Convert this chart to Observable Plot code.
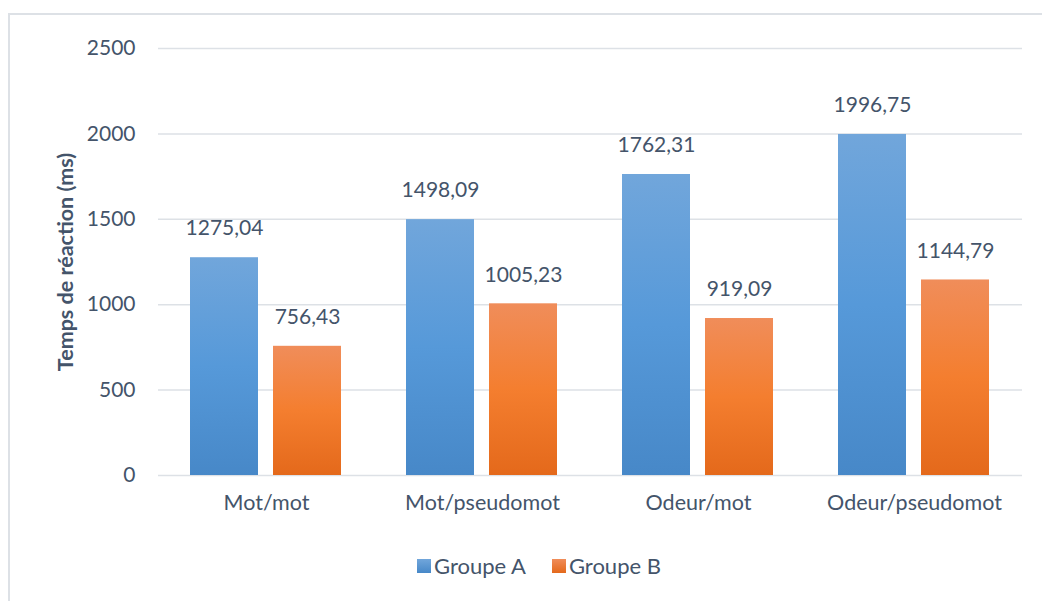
<!DOCTYPE html>
<html>
<head>
<meta charset="utf-8">
<script src="https://cdn.jsdelivr.net/npm/d3@7"></script>
<script src="https://cdn.jsdelivr.net/npm/@observablehq/plot@0.6"></script>
<style>
  html, body { margin: 0; padding: 0; background: #fff; }
  #wrap { position: relative; width: 1042px; height: 601px; overflow: hidden; font-family: Lato, "Open Sans", sans-serif; color: #44546a; }
  #frame { position: absolute; left: 8px; top: 13px; width: 1100px; height: 700px; border-left: 2px solid #dde1e6; border-top: 2px solid #dde1e6; pointer-events: none; }
  #chart { position: absolute; left: 0; top: 0; }
  #ytitle { position: absolute; left: 65px; top: 262px; transform: translate(-50%, -50%) rotate(-90deg); font-weight: bold; font-size: 21.5px; white-space: nowrap; }
  #legend { position: absolute; left: 417px; top: 552px; display: flex; align-items: center; font-size: 22px; }
  .sw { width: 14px; height: 14px; display: inline-block; margin-right: 3px; }
  .item { display: flex; align-items: center; margin-right: 26px; }
</style>
</head>
<body>
<div id="wrap">
  <div id="chart"></div>
  <div id="frame"></div>
  <div id="ytitle">Temps de réaction (ms)</div>
  <div id="legend"></div>
</div>
<script>
const categories = ["Mot/mot", "Mot/pseudomot", "Odeur/mot", "Odeur/pseudomot"];
const groups = ["Groupe A", "Groupe B"];
const groupA = [1275.04, 1498.09, 1762.31, 1996.75];
const groupB = [756.43, 1005.23, 919.09, 1144.79];
const yTicks = [0, 500, 1000, 1500, 2000, 2500];
const axisTitle = "Temps de réaction (ms)";

const data = [];
categories.forEach((c, i) => {
  data.push({category: c, group: groups[0], value: groupA[i]});
  data.push({category: c, group: groups[1], value: groupB[i]});
});

const fmt = v => v.toFixed(2).replace(".", ",");
const textColor = "#44546a";
const gridColor = "#dde1e6";

const chart = Plot.plot({
  width: 1042,
  height: 540,
  marginLeft: 158,
  marginRight: 20,
  marginTop: 48,
  marginBottom: 65,
  style: {background: "transparent", color: textColor, fontFamily: "Lato, 'Open Sans', sans-serif", fontSize: "21px"},
  fx: {domain: categories, padding: 0, label: null},
  x: {domain: groups, axis: null, paddingInner: 0.18, paddingOuter: 0.39},
  y: {domain: [0, 2500], ticks: yTicks, label: null},
  color: {domain: groups, range: ["url(#gradA)", "url(#gradB)"]},
  marks: [
    Plot.gridY(yTicks, {stroke: gridColor, strokeOpacity: 1, strokeWidth: 1.5}),
    Plot.axisY(yTicks, {tickSize: 0, tickPadding: 23, label: null, fontSize: 21, tickFormat: d => String(d)}),
    Plot.axisFx({anchor: "bottom", tickSize: 0, tickPadding: 19, label: null, fontSize: 21.5}),
    Plot.barY(data, {fx: "category", x: "group", y: "value", fill: "group"}),
    Plot.text(data, {fx: "category", x: "group", y: "value", text: d => fmt(d.value), dy: -29, fontSize: 21, fill: textColor})
  ]
});

const defs = d3.select(chart).insert("defs", ":first-child");
function grad(id, stops) {
  const g = defs.append("linearGradient").attr("id", id).attr("x1", 0).attr("y1", 0).attr("x2", 0).attr("y2", 1);
  stops.forEach(([o, c]) => g.append("stop").attr("offset", o).attr("stop-color", c));
}
grad("gradA", [[0, "#71a6db"], [0.5, "#5699d9"], [1, "#4788c8"]]);
grad("gradB", [[0, "#f08d5a"], [0.5, "#f47e2f"], [1, "#e4691b"]]);

document.getElementById("chart").appendChild(chart);

const legend = document.getElementById("legend");
groups.forEach((g, i) => {
  const item = document.createElement("div");
  item.className = "item";
  const sw = document.createElement("span");
  sw.className = "sw";
  sw.style.background = i === 0 ? "linear-gradient(#71a6db, #4788c8)" : "linear-gradient(#f08d5a, #e4691b)";
  const t = document.createElement("span");
  t.textContent = g;
  item.appendChild(sw);
  item.appendChild(t);
  legend.appendChild(item);
});
document.getElementById("ytitle").textContent = axisTitle;
</script>
</body>
</html>
